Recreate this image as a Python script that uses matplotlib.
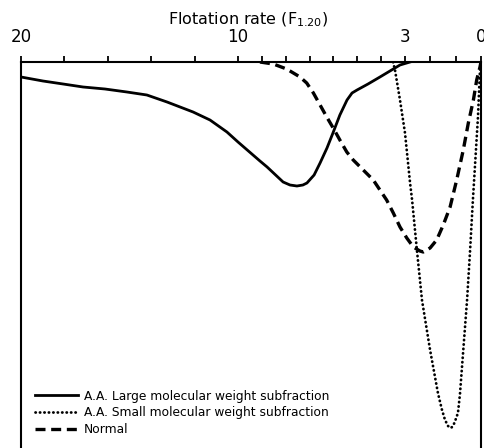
import numpy as np
import matplotlib
matplotlib.use("Agg")
import matplotlib.pyplot as plt

plt.rcParams["mathtext.default"] = "regular"

# flotation rate (F1.20) values and relative depth of each curve below the baseline
large_f = [20.0, 18.99, 18.06, 17.14, 16.13, 15.12, 14.20, 13.27, 12.07, 11.29, 10.51,
           10.0, 9.08, 8.78, 8.11, 7.82, 7.53, 7.28, 7.11, 6.81, 6.56, 6.27, 6.02,
           5.73, 5.43, 5.22, 5.01, 4.55, 4.05, 3.63, 3.21, 2.80]
large_y = [15, 19, 22, 25, 27, 30, 33, 40, 50, 58, 70,
           80, 99, 105, 120, 123, 124, 123, 121, 113, 101, 86, 71,
           53, 38, 31, 28, 22, 15, 9, 3, 0]

small_f = [3.50, 3.42, 3.21, 3.0, 2.80, 2.72, 2.53, 2.33, 2.01, 1.70, 1.55, 1.42, 1.30,
           1.20, 1.14, 1.05, 0.91, 0.83, 0.75, 0.55, 0.43, 0.32, 0.24, 0.12, 0.04, 0.0]
small_y = [0, 8, 38, 71, 121, 138, 188, 238, 288, 331, 347, 358, 364,
           366, 365, 361, 351, 332, 305, 238, 188, 138, 105, 55, 8, 0]

normal_f = [9.08, 8.52, 7.96, 7.40, 7.12, 6.84, 6.56, 6.28, 6.01, 5.73, 5.44, 5.17,
            4.75, 4.33, 4.05, 3.77, 3.49, 3.21, 2.93, 2.67, 2.41, 2.28, 2.01, 1.75,
            1.49, 1.22, 0.96, 0.70, 0.50, 0.30, 0.17, 0.04, 0.0]
normal_y = [0, 2, 7, 15, 21, 31, 43, 55, 66, 78, 90, 98,
            108, 118, 128, 138, 151, 165, 176, 185, 189, 190, 186, 178,
            163, 145, 118, 88, 61, 38, 18, 5, 0]

tick_major = [20, 10, 3, 0]
tick_minor = [18, 16, 14, 12, 9, 8, 7, 6, 5, 4, 2, 1]

# the printed axis is not linear: spacing per unit changes at 10 and 3
scale_f = [-100, 0, 3, 10, 20, 120]
scale_u = [-2533, 0, 76, 243, 460, 2630]


def fwd(f):
    return np.interp(f, scale_f, scale_u)


def inv(u):
    return np.interp(u, scale_u, scale_f)


fig = plt.figure(figsize=(4.85, 4.48), dpi=100)
ax = fig.add_axes([21 / 485, 0, 460 / 485, 1 - 62 / 448])
ax.set_xscale("function", functions=(fwd, inv))

ax.plot(large_f, large_y, color="black", lw=2.0, solid_joinstyle="round",
        label="A.A. Large molecular weight subfraction")
ax.plot(small_f, small_y, color="black", lw=2.0, linestyle=(0, (0.1, 1.5)),
        dash_capstyle="round", label="A.A. Small molecular weight subfraction")
ax.plot(normal_f, normal_y, color="black", lw=2.4, linestyle=(0, (3.0, 1.7)),
        label="Normal")

ax.set_xlim(20, 0)
ax.set_ylim(386, 0)

ax.xaxis.tick_top()
ax.set_xticks(tick_major)
ax.set_xticklabels([str(t) for t in tick_major])
ax.set_xticks(tick_minor, minor=True)
ax.tick_params(axis="x", which="both", direction="out", length=4.5, width=1.3, pad=7,
               labelsize=12)
ax.set_yticks([])
ax.spines["bottom"].set_visible(False)
for s in ["top", "left", "right"]:
    ax.spines[s].set_linewidth(1.5)

fig.text(248 / 485, 1 - 20 / 448, r"Flotation rate (F$_{1.20}$)", ha="center", va="center",
         fontsize=11.5)

leg = ax.legend(loc="lower left", bbox_to_anchor=(35 / 485, 1 - 436 / 448),
                bbox_transform=fig.transFigure, frameon=False, fontsize=8.8,
                handlelength=3.5, handletextpad=0.5, labelspacing=0.3,
                borderpad=0, borderaxespad=0)

fig.savefig("out.png", dpi=100)
